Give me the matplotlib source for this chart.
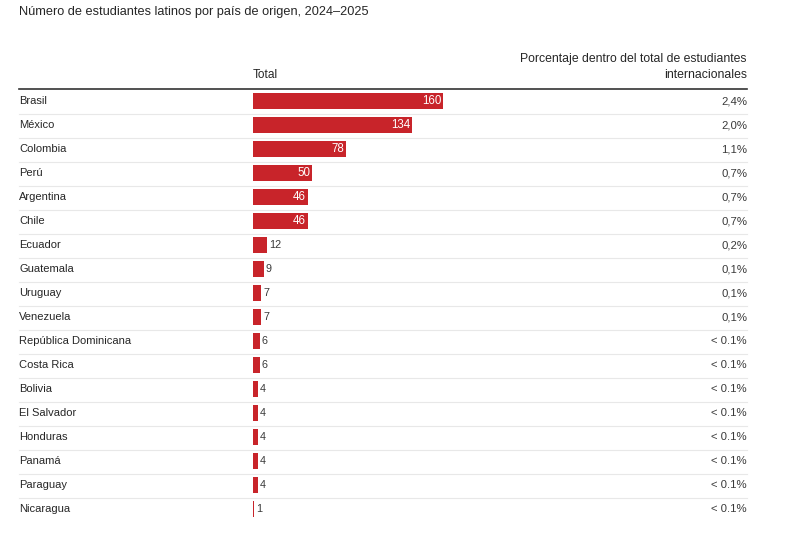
import matplotlib.pyplot as plt

paises = ["Brasil", "México", "Colombia", "Perú", "Argentina", "Chile", "Ecuador",
          "Guatemala", "Uruguay", "Venezuela", "República Dominicana", "Costa Rica",
          "Bolivia", "El Salvador", "Honduras", "Panamá", "Paraguay", "Nicaragua"]
total = [160, 134, 78, 50, 46, 46, 12, 9, 7, 7, 6, 6, 4, 4, 4, 4, 4, 1]
porcentaje = ["2,4%", "2,0%", "1,1%", "0,7%", "0,7%", "0,7%", "0,2%", "0,1%", "0,1%",
              "0,1%", "< 0.1%", "< 0.1%", "< 0.1%", "< 0.1%", "< 0.1%", "< 0.1%",
              "< 0.1%", "< 0.1%"]

plt.rcParams['font.family'] = ['Liberation Sans', 'DejaVu Sans']

W, H = 802, 536
fig = plt.figure(figsize=(W / 100, H / 100), dpi=100)
fig.patch.set_facecolor("white")

# full-figure axes in pixel units for texts and rules
tab = fig.add_axes([0, 0, 1, 1])
tab.set_xlim(0, W)
tab.set_ylim(H, 0)
tab.axis("off")

txt = "#262626"
grey = "#3a3a3a"
red = "#c8242a"
n = len(paises)
row0, step = 101, 24
left, bar_x, right = 19, 253, 747

tab.text(left, 12, "Número de estudiantes latinos por país de origen, 2024–2025",
         fontsize=9.2, color=txt, va="center", ha="left")
tab.text(bar_x, 75, "Total", fontsize=8.6, color=txt, va="center", ha="left")
tab.text(right, 59, "Porcentaje dentro del total de estudiantes", fontsize=8.8,
         color=txt, va="center", ha="right")
tab.text(right, 75, "internacionales", fontsize=8.8, color=txt, va="center", ha="right")
tab.plot([left, right], [89, 89], color="#333333", lw=1.2)

for i, (p, pc) in enumerate(zip(paises, porcentaje)):
    y = row0 + step * i + 0.5
    tab.text(left, y, p, fontsize=8, color=txt, va="center", ha="left")
    tab.text(right, y, pc, fontsize=8.2, color=grey, va="center", ha="right")
    if i < n - 1:
        tab.plot([left, right], [y + step / 2, y + step / 2], color="#e8e8e8", lw=0.8)

# bar axes
top_px = row0 - step / 2
bot_px = row0 + step * (n - 1) + step / 2
ax = fig.add_axes([bar_x / W, 1 - bot_px / H, (right - bar_x) / W, (bot_px - top_px) / H])
ax.patch.set_alpha(0)
ax.axis("off")
xmax = 160 * (right - bar_x) / 190
ax.set_xlim(0, xmax)
ax.set_ylim(n - 0.5, -0.5)
ax.barh(range(n), total, height=0.66, color=red)
for i, v in enumerate(total):
    if v >= 40:
        ax.text(v - 1.5, i, str(v), color="white", fontsize=8.3, va="center", ha="right")
    else:
        ax.text(v + 1.5, i, str(v), color=grey, fontsize=7.8, va="center", ha="left")

fig.savefig("out.png", dpi=100, facecolor="white")
